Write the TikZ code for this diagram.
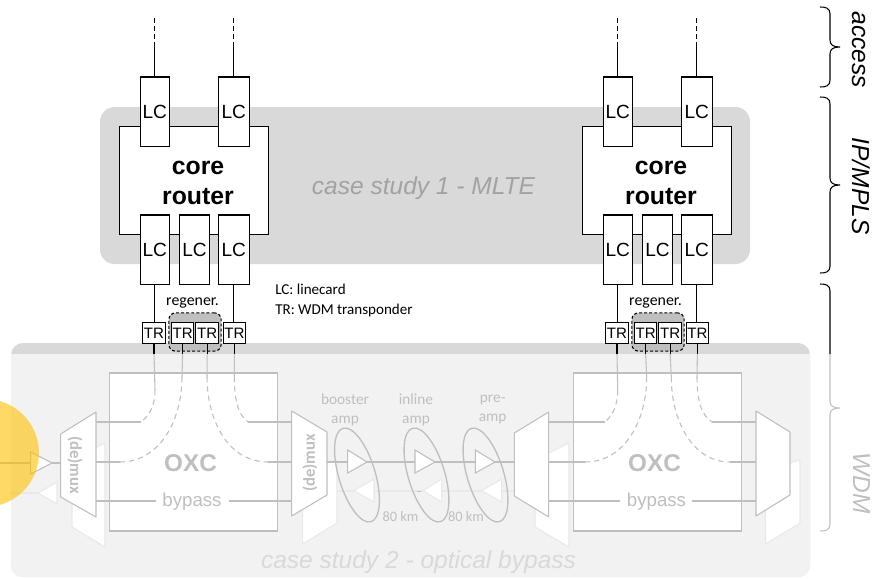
\documentclass[tikz,border=0pt]{standalone}
\usepackage{fontspec}
\setmainfont{Liberation Sans}
\newfontfamily\calfont{Carlito}
\definecolor{fade}{HTML}{BFBFBF}
\definecolor{faint}{HTML}{E9E9E9}
\definecolor{band}{HTML}{D9D9D9}
\definecolor{pale}{HTML}{F2F2F2}
\definecolor{regen}{HTML}{BFBFBF}
\definecolor{sun}{HTML}{FFC000}
\tikzset{
 line/.style={draw=black,line width=0.8pt},
 fline/.style={draw=fade,line width=0.8pt},
 fdash/.style={draw=fade,line width=0.8pt,dash pattern=on 4pt off 3pt},
 rline/.style={draw=faint,line width=0.8pt},
 lcbox/.style={draw=black,fill=white,line width=0.8pt,inner sep=0pt,minimum height=51.8pt,font=\fontsize{14.3}{15}\selectfont},
 trbox/.style={draw=black,fill=white,line width=0.8pt,inner sep=0pt,minimum width=17pt,minimum height=15.2pt,font=\fontsize{11.3}{12}\selectfont},
 routerbox/.style={draw=black,fill=white,line width=0.8pt,inner sep=0pt,minimum width=111.6pt,minimum height=80.5pt},
 routertext/.style={inner sep=0pt,align=center,font=\fontsize{18.6}{22}\selectfont\bfseries},
 oxcbox/.style={draw=fade,fill=white,line width=1pt,inner sep=0pt,minimum width=125.6pt,minimum height=118.5pt},
 regenbox/.style={draw=black,fill=regen,line width=0.8pt,dash pattern=on 2.2pt off 1.6pt,rounded corners=5pt,inner sep=0pt,minimum width=39.2pt,minimum height=28.7pt},
 mux/.style={draw=fade,fill=white,line width=0.8pt,line join=round},
 muxback/.style={draw=faint,fill=white,line width=0.8pt,line join=round},
 amp/.style={draw=fade,fill=white,line width=0.8pt},
 ampback/.style={draw=faint,fill=white,line width=0.8pt},
 ring/.style={draw=fade,line width=1pt},
 calnote/.style={inner sep=0pt,font=\calfont\fontsize{11.3}{15}\selectfont},
 fadenote/.style={inner sep=0pt,text=fade,align=center,font=\calfont\fontsize{11.5}{14.3}\selectfont},
 kmnote/.style={inner sep=0pt,text=fade,font=\calfont\fontsize{10.8}{13}\selectfont},
 muxlabel/.style={inner sep=0pt,text=fade,font=\calfont\bfseries\fontsize{12.5}{14}\selectfont},
 layerlabel/.style={inner sep=0pt,font=\fontsize{18.4}{20}\selectfont},
 brace/.style={line width=0.8pt}
}
\begin{document}
\begin{tikzpicture}[x=0.75pt,y=-0.75pt]
\useasboundingbox (0,0) rectangle (874,578);
\clip (0,0) rectangle (874,578);
% background panels
\fill[band,rounded corners=11pt] (100,107) rectangle (750,264);
\fill[band,rounded corners=9pt] (11,343) rectangle (810,577);
\begin{scope}
 \clip (0,354) rectangle (874,578);
 \fill[pale,rounded corners=9pt] (11,343) rectangle (810,577);
\end{scope}
\coordinate (bandedge) at (0,354);
\coordinate (levA) at (0,422);
\coordinate (levB) at (0,462);
\coordinate (levC) at (0,501);

% OXC boxes
\node[oxcbox] (oxcA) at (193.5,452) {};
\node[oxcbox] (oxcB) at (657.5,452) {};

% upper layers, drawn twice
\foreach \s/\dx in {A/0,B/463}{
 \begin{scope}[shift={(\dx,0)}]
  \node[regenbox] (reg\s) at (195,332) {};
  \node[routerbox] (router\s) at (193.7,180.5) {};
  \node[routertext] (routertxt\s) at (198,183) {core\\router};
  \node[lcbox,minimum width=22pt] (lcT\s a) at (154.7,111.5) {LC};
  \node[lcbox,minimum width=23pt] (lcT\s b) at (233.7,111.5) {LC};
  \node[lcbox,minimum width=22pt] (lcB\s a) at (154.7,249.5) {LC};
  \node[lcbox,minimum width=23pt] (lcB\s b) at (194.5,249.5) {LC};
  \node[lcbox,minimum width=23pt] (lcB\s c) at (233.7,249.5) {LC};
  \node[trbox] (tr\s a) at (154,333) {TR};
  \node[trbox] (tr\s b) at (182.6,333) {TR};
  \node[trbox] (tr\s c) at (207.2,333) {TR};
  \node[trbox] (tr\s d) at (234.4,333) {TR};
  \coordinate (endT\s a) at (154.7,47);
  \coordinate (dashT\s a) at (154.7,18);
  \coordinate (endT\s b) at (233.7,47);
  \coordinate (dashT\s b) at (233.7,18);
  \node[inner sep=0pt,font=\calfont\fontsize{11.9}{13}\selectfont] (regtxt\s) at (192.5,303) {regener.};
 \end{scope}
 \draw[line] (lcT\s a.north) -- (endT\s a);
 \draw[line,dash pattern=on 3.5pt off 2.5pt] (endT\s a) -- (dashT\s a);
 \draw[line] (lcT\s b.north) -- (endT\s b);
 \draw[line,dash pattern=on 3.5pt off 2.5pt] (endT\s b) -- (dashT\s b);
 \draw[line] (lcB\s a.south) -- (lcB\s a.south |- tr\s a.north);
 \draw[line] (lcB\s c.south) -- (lcB\s c.south |- tr\s d.north);
 \foreach \t in {a,b,c,d}{
  \draw[line] (tr\s\t.south) -- (tr\s\t.south |- bandedge);
 }
}
\node[calnote,anchor=west,align=left] (legend) at (275,300) {LC: linecard\\TR: WDM transponder};
\node[inner sep=0pt,text=fade!85!black,font=\itshape\fontsize{18.4}{20}\selectfont] (cs1) at (423.5,188) {case study 1 - MLTE};

% named ends of the muxes
\coordinate (mAr) at (96,462);
\coordinate (mBl) at (291.7,462);
\coordinate (mBr) at (327,462);
\coordinate (mCl) at (514.3,462);
\coordinate (mCr) at (548.7,462);
\coordinate (mDl) at (756,462);

\draw[rline] (10,493) -- (38,493);
\draw[rline] (337,491) -- (520,491);

% rear mux shapes
\draw[muxback] (105,443) -- (105,547) -- (72,527) -- (72,460) -- cycle;
\draw[muxback] (337,460) -- (337,523) -- (302.7,544) -- (302.7,470) -- cycle;
\draw[muxback] (569,443) -- (569,547) -- (535,527) -- (535,460) -- cycle;
\draw[muxback] (800,460) -- (800,523) -- (765.5,544) -- (765.5,470) -- cycle;

% left OXC connections
\draw[fline] (trAa.south |- bandedge) -- (155,390);
\draw[fdash] (155,390) .. controls (155,405) and (150,415) .. (141,422);
\draw[fline] (141,422) -- (mAr |- levA);
\draw[fline] (trAb.south |- bandedge) -- (182,377);
\draw[fdash] (182,377) .. controls (182,420) and (160,462) .. (120,462);
\draw[fline] (120,462) -- (mAr |- levB);
\draw[fline] (trAc.south |- bandedge) -- (207,377);
\draw[fdash] (207,377) .. controls (207,420) and (228,462) .. (268,462);
\draw[fline] (268,462) -- (mBl |- levB);
\draw[fline] (trAd.south |- bandedge) -- (234.3,377);
\draw[fdash] (234.3,377) .. controls (234.3,400) and (238,415) .. (248,422);
\draw[fline] (248,422) -- (mBl |- levA);
\node[inner sep=0pt,text=fade,font=\fontsize{14}{16}\selectfont] (bypA) at (192,501.5) {bypass};
\draw[fline] (mAr |- levC) -- (156,501);
\draw[fline] (229,501) -- (mBl |- levC);

% right OXC connections
\draw[fline] (trBa.south |- bandedge) -- (617.7,390);
\draw[fdash] (617.7,390) .. controls (617.7,405) and (613,415) .. (605,422);
\draw[fline] (605,422) -- (mCr |- levA);
\draw[fline] (trBb.south |- bandedge) -- (646.7,377);
\draw[fdash] (646.7,377) .. controls (646.7,420) and (625,462) .. (585,462);
\draw[fline] (585,462) -- (mCr |- levB);
\draw[fline] (trBc.south |- bandedge) -- (671.3,377);
\draw[fdash] (671.3,377) .. controls (671.3,420) and (692,462) .. (730,462);
\draw[fline] (730,462) -- (mDl |- levB);
\draw[fline] (trBd.south |- bandedge) -- (697,377);
\draw[fdash] (697,377) .. controls (697,400) and (701,415) .. (712,422);
\draw[fline] (712,422) -- (mDl |- levA);
\node[inner sep=0pt,text=fade,font=\fontsize{14}{16}\selectfont] (bypB) at (656.5,501.5) {bypass};
\draw[fline] (mCr |- levC) -- (620,501);
\draw[fline] (692,501) -- (mDl |- levC);

\node[inner sep=0pt,text=fade,font=\bfseries\fontsize{18.2}{20}\selectfont] (oxctA) at (190.5,463) {OXC};
\node[inner sep=0pt,text=fade,font=\bfseries\fontsize{18.2}{20}\selectfont] (oxctB) at (654.5,463) {OXC};

% span line
\draw[fline] (mBr) -- (mCl);
\coordinate (inA) at (0,463);
\coordinate (ampAin) at (30.7,463);
\draw[fline] (inA) -- (ampAin);
\draw[fline] (52,463) -- (60.7,463);

% front mux shapes
\draw[mux] (60.7,434) -- (96,412) -- (96,517) -- (60.7,497) -- cycle;
\draw[mux] (291.7,411) -- (327,432) -- (327,495) -- (291.7,516) -- cycle;
\draw[mux] (514.3,433) -- (548.7,412) -- (548.7,517) -- (514.3,496) -- cycle;
\draw[mux] (756,411) -- (790,432) -- (790,495) -- (756,516) -- cycle;
\node[muxlabel,rotate=-90] (muxtA) at (75,465) {(de)mux};
\node[muxlabel,rotate=90] (muxtB) at (310,463) {(de)mux};

% amplifiers
\draw[ampback] (57,482) -- (57,504) -- (38,493) -- cycle;
\draw[ampback] (374,479) -- (374,502) -- (354,490.7) -- cycle;
\draw[ampback] (441.7,479) -- (441.7,502) -- (423,490.7) -- cycle;
\draw[ampback] (501.7,479) -- (501.7,502) -- (481.7,490.7) -- cycle;
\draw[fline,line width=0.6pt] (416.5,491) -- (421,491);
\draw[amp] (30.7,452) -- (30.7,474) -- (52,463) -- cycle;
\draw[amp] (347.7,450) -- (347.7,473) -- (367,462) -- cycle;
\draw[amp] (415,450) -- (415,473) -- (435,462) -- cycle;
\draw[amp] (475.3,450) -- (475.3,473) -- (495,462) -- cycle;
\foreach \c in {357,426.5,485.5}{
 \draw[ring,rotate around={16.7:(\c,475)}] (\c,475) ellipse [x radius=13.7pt,y radius=36.6pt];
}
\node[fadenote] (boost) at (345,409.5) {booster\\amp};
\node[fadenote] (inl) at (416,409.5) {inline\\amp};
\node[fadenote] (pre) at (492.7,409.5) {pre-\\amp};
\node[kmnote] (kmA) at (400.5,517) {80 km};
\node[kmnote] (kmB) at (466,517) {80 km};
\node[inner sep=0pt,text=band,font=\itshape\fontsize{18.4}{20}\selectfont] (cs2) at (418.5,562) {case study 2 - optical bypass};

% side braces
\draw[brace] (820,7) .. controls (826,7) and (830,8) .. (830,14) -- (830,40) .. controls (830,45) and (833,47) .. (840,47) .. controls (833,47) and (830,49) .. (830,54) -- (830,80) .. controls (830,86) and (826,87) .. (820,87);
\draw[brace] (820,97) .. controls (826,97) and (830,98) .. (830,104) -- (830,178) .. controls (830,183) and (833,185) .. (840,185) .. controls (833,185) and (830,187) .. (830,192) -- (830,266) .. controls (830,272) and (826,273) .. (820,273);
\draw[brace] (820,284) .. controls (826,284) and (830,285) .. (830,291) -- (830,354);
\draw[brace,draw=fade] (830,354) -- (830,401) .. controls (830,406) and (833,408) .. (840,408) .. controls (833,408) and (830,410) .. (830,415) -- (830,524) .. controls (830,530) and (826,531) .. (820,531);
\node[layerlabel,rotate=-90,font=\itshape\fontsize{18.4}{20}\selectfont] (access) at (858.5,50) {access};
\node[layerlabel,rotate=-90,font=\itshape\fontsize{18.4}{20}\selectfont] (ip) at (861,186) {IP/MPLS};
\node[layerlabel,rotate=-90,text=fade,font=\itshape\fontsize{18.4}{20}\selectfont] (wdm) at (861.5,483) {WDM};

% highlight
\fill[sun,opacity=0.6] (-15,453) circle [radius=40.5pt];
\end{tikzpicture}
\end{document}
